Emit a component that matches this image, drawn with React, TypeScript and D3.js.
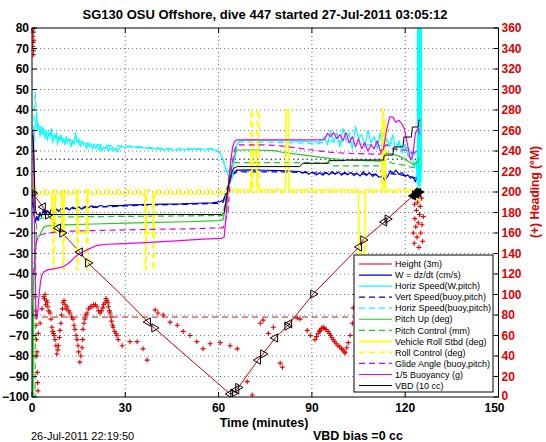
import React from 'react';
import * as d3 from 'd3';

// ---------- data (t in minutes, left axis units; heading in degrees) ----------
const titleText = 'SG130 OSU Offshore, dive 447 started 27-Jul-2011 03:05:12';
const xTicks = [0, 30, 60, 90, 120, 150];
const yTicksL = [-100, -90, -80, -70, -60, -50, -40, -30, -20, -10, 0, 10, 20, 30, 40, 50, 60, 70, 80];
const yTicksR = [0, 20, 40, 60, 80, 100, 120, 140, 160, 180, 200, 220, 240, 260, 280, 300, 320, 340, 360];

const heightData: [number, number][] = [[0,0],[3.5,-7.3],[5.1,-11.2],[8.4,-17.6],[9.7,-20],[15.4,-29.3],[18,-34.6],[28.3,-49.5],[37.3,-63.4],[39.3,-66.3],[50,-80.5],[63.7,-98.5],[64.7,-98.2],[66,-96],[72.7,-82],[74.3,-79],[78.2,-71.2],[82.1,-65.4],[90.4,-49.8],[98,-38],[105.2,-26.8],[106.5,-23.4],[113.3,-14.6],[119.4,-6],[122.5,-2],[124.5,0]];
const markerTimes = [0.3, 3.5, 5.1, 8.4, 9.7, 15.4, 18.0, 37.3, 39.3, 63.7, 64.7, 65.7, 66.3, 72.7, 74.3, 78.2, 82.1, 82.7, 90.4, 105.2, 106.5, 113.3, 114.3, 122.6, 123.1, 123.5, 123.9, 124.2, 124.5];

const headingData: [number, number][] = [
  [0.2,342],[0.3,352],[0.35,346],[0.45,356],[0.5,338],[0.6,348],[0.7,360],[0.4,334],
  [1.0,98],[1.1,84],[1.3,70],[1.4,56],[1.6,40],[1.7,24],[1.8,14],[1.9,6],
  [1.6,44],[2.0,62],[2.6,72],[3.2,86],[3.8,98],[4.2,100],[4.6,94],[5.1,88],[5.8,82],[6.4,68],[6.9,62],[7.4,56],[8.0,42],[8.5,50],[9.0,65],[9.5,80],[10,92],[10.6,90],[11.3,88],[12.2,82],[13.2,76],[13.8,66],[14.5,56],[15.0,44],[15.4,34],[16.1,48],[16.4,66],[17.0,76],[17.7,82],[18.7,88],[19.8,90],[20.9,88],[21.9,82],[22.8,87],[23.5,92],[24.1,94],[24.6,88],[25.1,82],[25.6,74],[26.1,68],[27.3,60],[27.7,56],
  [4.0,96],[4.4,90],[4.9,92],[5.4,84],[6.1,76],[6.7,64],[7.1,60],[7.7,50],[8.3,46],[8.8,58],[9.3,72],[9.8,86],[10.3,94],[11.0,86],[11.8,84],[12.7,78],[13.5,70],[14.2,60],[14.8,50],[15.7,40],[16.3,56],[16.7,72],[17.3,80],[18.2,86],[19.3,88],[20.4,90],[21.4,84],[22.3,84],[23.0,90],[23.8,96],[24.4,92],[24.9,84],[25.4,78],[25.9,70],[26.6,64],[27.0,62],
  [29,50],[31.5,54],[33.8,54],[35.7,47],[37,36],[39.6,85],[40.5,82],[42.2,80],[44.4,73],[46.7,70],[48.6,64],[50.8,60],[53,54],[55,47],[57.3,52],[60.5,53],[63.7,50],[66,47],[69.2,15],[70.8,2],
  [73.4,72],[74.3,75],[76,62],[77.6,68],[79.8,33],[80.5,29],[85.3,77],[86.2,76],[88.5,65],[89.5,60],[91,56],[91.5,59],[92,62],[92.4,64],[92.7,65],[93.1,67],[93.6,68],[94.0,67],[94.5,66],[95.2,64],[95.6,62],[96,60],[96.4,58],[96.8,56],[97.3,54],[97.8,52],[98.4,50],[99,49],[99.5,47],[100,46],[100.4,44],[100.7,43],[101.2,48],[101.7,53],[102.3,60],[103,72],[103.3,87],[103.9,100],
  [122.6,160],[122.9,150],[123.1,174],[123.4,166],[123.6,182],[123.8,156],[124.0,190],[124.2,170],[124.4,146],[124.6,178],[124.8,186],[125.0,160],[125.2,194],[125.4,168],[125.6,152],[125.8,176],[123.0,188],[124.9,200]
];

const wData: [number, number][] = [[0,0],[0.3,-3],[0.6,-8],[1,-15],[1.5,-12],[2,-14],[2.5,-10],[3,-12],[3.6,-8.8],[4.2,-11],[5,-9],[5.6,-10.5],[6.2,-8.5],[7,-10],[7.8,-8.2],[8.6,-9.6],[9.4,-7.8],[10.1,-9],[11,-7.6],[12,-8.8],[13,-7.4],[14,-8.2],[15,-7.2],[16,-8.4],[17,-7],[18,-7.8],[19,-6.8],[20.8,-7.4],[22,-6.6],[23.5,-7.2],[25,-6.6],[28,-6.6],[31.5,-6.3],[36,-6.2],[42.3,-5.9],[48,-5.8],[53,-5.5],[58,-5.3],[60.5,-4.7],[61.5,-4],[62.5,0],[63.5,5],[64.5,9],[65.9,10.7],[70,10.8],[75,10.6],[80,10.4],[86,10],[87,9.2],[88,10],[89,8.6],[90,9.6],[91.5,8.3],[92.5,9.4],[93.5,8.2],[94.5,9.6],[95.5,8.4],[96.5,10],[97.5,8.6],[98.5,9.8],[99.5,8.2],[100.5,9.6],[101.5,8.4],[102.5,9.6],[103.5,8],[104.5,9.2],[105.5,7.8],[106.5,9.9],[107.5,8],[108.5,9.4],[109.5,7.6],[110.5,8.8],[111.5,7.2],[112.5,7.5],[113.5,5.8],[114.5,8],[115.2,10.4],[116,9],[117,10.7],[118,8.6],[119,9.4],[120,7.6],[120.8,8.4],[121.7,6.8],[122.5,7.2],[123.3,5],[124,8],[124.6,4]];
const vertBuoyData: [number, number][] = [[0,0],[0.5,-10],[1,-14],[2,-12],[4,-9.5],[10,-8.3],[20,-7.5],[30,-6.8],[40,-6.3],[50,-6],[60,-5.5],[61.5,-5],[63,2],[64.5,8.5],[66,9.8],[80,9.8],[90,9.4],[100,9],[110,8.6],[113,7.5],[115,9],[120,8],[123,7],[124.6,6]];

const horizWData: [number, number][] = [[0.5,20],[0.8,30],[1.2,34],[1.5,37.5],[1.8,30],[2.2,33],[2.6,27],[3,32],[3.4,28],[3.8,31],[4.2,26],[4.6,30],[5,25],[5.4,29],[5.8,27],[6.2,31],[6.6,24],[7,28],[7.4,26],[7.8,29],[8.2,23],[8.6,27],[9,25],[9.4,28],[9.8,24],[10.2,26],[10.6,23],[11,27],[11.4,24],[12,26],[12.5,22],[13,25],[13.5,23],[14,29],[14.5,24],[15,26],[15.5,22],[16,25],[16.5,23],[17,24],[17.5,21],[18,24],[18.5,22],[19,23],[19.5,21],[20,23.5],[20.5,21],[21,23],[21.5,20.5],[22,22.5],[22.5,20],[23,22],[23.5,21],[24,22.5],[24.5,20],[25,22],[25.5,20.5],[26,22],[26.5,20],[27,21.5],[27.5,19.5],[28.3,22],[32,22],[36,21.5],[40,21],[44,20.5],[48,20.5],[52,21],[56,20.5],[58,21],[59.5,20],[60.5,19],[61.5,15],[62.5,10],[63.5,7],[64.3,6],[65,15],[66,24],[67,25],[70,25.4],[75,25.2],[80,25],[85,24.8],[90,24.5],[92,24.2],[93,25],[94,27],[95,23],[96,30],[97,24],[98,29],[99,22],[100,31],[101,25],[102,29],[103,21],[104,32],[105,26],[106,28],[107,22],[108,30],[109,24],[110,27],[111,21],[112,29],[113,20],[114,26],[115,22],[116,28],[117,20],[118,25],[119,19],[120,23],[121,17],[122,20],[122.8,12],[123.5,15],[123.9,4],[124.0,90],[124.2,3],[124.35,90],[124.5,2],[124.65,90],[124.8,3],[124.95,90],[125.1,5],[125.2,90],[125.25,10]];
const horizBuoyData: [number, number][] = [[0.3,15],[0.7,40],[1,49],[1.3,42],[1.7,32],[2.5,33],[4,30],[6,28],[8,27],[10,26],[14,25],[18,23.5],[22,23],[26,22.5],[30,22.5],[35,22],[40,21.5],[45,21],[50,21],[55,21],[58,21],[60,20],[61.5,16],[62.5,11],[63.5,9],[64.5,14],[65.5,22],[66.5,24.5],[75,24.3],[85,24],[92,23.5],[95,25],[100,24.5],[105,23.5],[110,23],[113,22.5],[116,24],[120,22],[122,20],[123.5,18]];

const pitchData: [number, number][] = [[0,-55],[0.15,-100],[0.35,-100],[0.5,-45],[0.9,-30],[1.5,-23],[2.5,-21],[3.3,-18.5],[3.9,-17],[5,-16.5],[10,-16],[20,-15.6],[30,-15.2],[40,-14.8],[50,-14.5],[60,-14],[61.5,-13.5],[62.5,-5],[63.5,5],[64.5,15],[65.5,19.5],[66,20.5],[72,20.5],[78,20.2],[80,19.5],[85,18.5],[90,17.5],[95,16.5],[100,15.6],[105,15.4],[110,15.2],[112,15],[113,17],[114,19],[116,18.5],[118,17.5],[120,16],[122,14],[123,13.5],[124,15],[124.6,17]];
const pitchCtlData: [number, number][] = [[0.3,-100],[1.0,-100],[1.2,-30],[1.5,-15],[2.5,-13],[5,-12.2],[20,-12],[40,-11.8],[60,-11.5],[61.5,-11.5],[62,-5],[63,5],[64,13],[65,14.3],[80,14.3],[90,14.3],[96,14],[97,12.7],[112,12.7],[113,15.5],[116,14],[120,13],[122,12],[124.6,12]];

const rollData: [number, number][] = [[0,0],[0.5,5],[1,-2],[2,-1],[6.4,-1],[6.5,-20],[7.5,-20],[7.6,-1],[9.5,-1],[9.6,-20],[10.2,-20],[10.3,-1],[14.5,-1],[14.6,-20],[17.7,-20],[17.8,-1],[36.4,-1],[36.5,-20],[39,-20],[39.1,-1],[61,-1],[64,1],[70.5,1],[71,20],[72,20],[72.5,1],[81.5,1],[81.7,40],[82.4,40],[82.6,1],[105,1],[105.2,-30],[107,-30],[107.2,1],[112.6,1],[112.8,35],[113.5,35],[113.7,1],[122,1],[124,0],[124.6,-5]];
const rollCtlData: [number, number][] = [[0,2],[2,1],[6.7,1],[6.8,-38],[7.1,-38],[7.2,1],[9.9,1],[10.0,-38],[10.3,-38],[10.4,1],[14.4,1],[14.5,-38],[14.8,-38],[14.9,1],[17.5,1],[17.6,-38],[17.9,-38],[18.0,1],[36.3,1],[36.4,-38],[36.7,-38],[36.8,1],[38.8,1],[38.9,-38],[39.2,-38],[39.3,1],[61,1],[64,0],[70.2,0],[70.4,40],[70.8,40],[71,0],[72.3,0],[72.5,40],[72.9,40],[73.1,0],[112.4,0],[112.6,41],[113,41],[113.2,0],[124.6,0]];

const glideData: [number, number][] = [[0.5,-40],[1,-30],[1.5,-24],[2.5,-21],[5,-20],[10,-19.2],[20,-18.8],[30,-18.5],[40,-18.2],[50,-18],[60,-17.5],[61.5,-17.5],[63,-10],[64,10],[65,20],[66,23],[75,23],[80,22.5],[85,21.5],[90,20.5],[95,19.5],[100,19],[105,18.7],[110,18.5],[112,18.5],[113,22],[114,23],[116,21],[120,20.5],[122,19],[124.6,20]];
const buoyData: [number, number][] = [[0,30],[0.3,29],[0.6,10],[0.9,-30],[1.2,-55],[1.5,-62],[1.8,-60],[2.3,-50],[2.8,-43],[3.3,-40],[3.8,-39],[5,-38],[7,-37.5],[10,-36.5],[12,-34.5],[14,-31.5],[15.4,-30],[18,-28],[21,-26],[24,-25.5],[27.7,-25.3],[35,-24.8],[45,-24],[55,-23],[61,-22.6],[61.8,-22],[62.5,-10],[63.5,10],[64.5,22],[65.3,25],[66,25.4],[93,25.4],[94,25.5],[95,28.6],[96,27],[97,29],[98,26],[99,28],[100,25],[101,29],[102,24],[103,27],[104,22],[105,26],[106,21],[107,24],[108,20],[109,23],[110,21],[111,25],[112,20],[113,21],[114,30],[115,36.7],[116,36.5],[117,34],[118,35],[119,33],[119.7,31],[120.5,25],[121.7,15.6],[122.5,18],[123.3,29],[124.2,31],[124.6,28]];
const vbdData: [number, number][] = [[0,28],[0.3,27],[0.6,20],[0.9,0],[1.1,-8],[1.3,-10.5],[2,-11],[5,-11],[30,-11],[61,-11],[61.8,-10],[62.8,0],[63.8,8],[64.8,11.5],[66,12.4],[86,12.4],[86.5,13],[87,14],[95,14],[95.5,15.3],[100,15.3],[101,15.6],[113,15.6],[113.3,18],[116,18],[116.4,22],[119.3,22],[119.6,26.8],[122,26.8],[122.3,31.7],[124.2,31.7],[124.4,35],[124.9,35]];

const targetDepthData: [number, number][] = [[0,-61],[125,-61]];
const refBlueData: [number, number][] = [[0,16],[125,16]];

const legendLabels = ['Height (3m)', 'W = dz/dt (cm/s)', 'Horiz Speed(W,pitch)', 'Vert Speed(buoy,pitch)', 'Horiz Speed(buoy,pitch)', 'Pitch Up (deg)', 'Pitch Control (mm)', 'Vehicle Roll Stbd (deg)', 'Roll Control (deg)', 'Glide Angle (buoy,pitch)', '1/5 Buoyancy (g)', 'VBD (10 cc)'];

// ---------- styles ----------
const DASH = '6 4';
const legendStyles = [
  { color: '#cc0000', dash: undefined, w: 1 },
  { color: '#0000c8', dash: undefined, w: 1.2 },
  { color: '#00ffff', dash: undefined, w: 1.2 },
  { color: '#0000c8', dash: DASH, w: 1.2 },
  { color: '#00ffff', dash: DASH, w: 1.2 },
  { color: '#22cc22', dash: undefined, w: 1.2 },
  { color: '#22cc22', dash: DASH, w: 1.2 },
  { color: '#ffff00', dash: undefined, w: 1.6 },
  { color: '#ffff00', dash: DASH, w: 1.6 },
  { color: '#dd00dd', dash: DASH, w: 1.2 },
  { color: '#ee00ee', dash: undefined, w: 1.2 },
  { color: '#000000', dash: undefined, w: 1 },
];

const PL = 32, PR = 498.5, PT = 28, PB = 397;
const FONT = '"Liberation Sans", Arial, Helvetica, sans-serif';

export default function App() {
  const x = d3.scaleLinear().domain([0, 150]).range([PL, PR]);
  const y = d3.scaleLinear().domain([-100, 80]).range([PB, PT]);
  const yR = d3.scaleLinear().domain([0, 360]).range([PB, PT]);
  const line = d3.line<[number, number]>().x(d => x(d[0])).y(d => y(d[1]));

  const hInterp = (t: number) => {
    const ts = heightData.map(d => d[0]);
    const i = Math.max(1, Math.min(heightData.length - 1, d3.bisectLeft(ts, t)));
    const a = heightData[i - 1], b = heightData[i];
    const f = (t - a[0]) / (b[0] - a[0]);
    return a[1] + f * (b[1] - a[1]);
  };
  const tri = d3.symbol().type(d3.symbolTriangle).size(30)();

  const series = [
    { d: wData, s: legendStyles[1] },
    { d: vertBuoyData, s: legendStyles[3] },
    { d: horizWData, s: legendStyles[2] },
    { d: horizBuoyData, s: legendStyles[4] },
    { d: pitchData, s: legendStyles[5] },
    { d: pitchCtlData, s: legendStyles[6] },
    { d: rollData, s: legendStyles[7] },
    { d: rollCtlData, s: legendStyles[8] },
    { d: glideData, s: legendStyles[9] },
    { d: buoyData, s: legendStyles[10] },
    { d: vbdData, s: legendStyles[11] },
  ];

  const legX = 354, legY = 255, legW = 139, legH = 137, rowH = 11.05;

  return (
    <svg width={546} height={442} style={{ position: 'absolute', left: 0, top: 0, background: '#fff' }} fontFamily={FONT}>
      <defs>
        <clipPath id="plotClip"><rect x={PL} y={PT} width={PR - PL} height={PB - PT} /></clipPath>
      </defs>
      <rect x={0} y={0} width={546} height={442} fill="#fff" />
      <text x={265} y={19} textAnchor="middle" fontSize={13} fontWeight="bold">{titleText}</text>
      {/* grid */}
      <g stroke="#555" strokeWidth={0.8} strokeDasharray="1 3">
        {xTicks.slice(1, -1).map(t => <line key={'gx' + t} x1={x(t)} x2={x(t)} y1={PT} y2={PB} />)}
        {yTicksL.slice(1, -1).map(v => <line key={'gy' + v} x1={PL} x2={PR} y1={y(v)} y2={y(v)} />)}
      </g>
      <g clipPath="url(#plotClip)" fill="none">
        <path d={line(refBlueData)!} stroke="#00008b" strokeWidth={1} strokeDasharray="1.5 3" />
        <path d={line(targetDepthData)!} stroke="#b22222" strokeWidth={1} strokeDasharray={DASH} />
        {headingData.map((d, i) => (
          <path key={'h' + i} transform={`translate(${x(d[0])},${yR(d[1])})`} d="M-2.5,0H2.5M0,-2.5V2.5" stroke="#e00000" strokeWidth={1.1} />
        ))}
        <path d={line(heightData)!} stroke={legendStyles[0].color} strokeWidth={1} />
        {series.map((s, i) => (
          <path key={'s' + i} d={line(s.d)!} stroke={s.s.color} strokeWidth={s.s.w} strokeDasharray={s.s.dash} strokeLinejoin="round" />
        ))}
        {markerTimes.map((t, i) => (
          <path key={'m' + i} d={tri!} transform={`translate(${x(t)},${y(hInterp(t))}) rotate(${i % 2 === 0 ? 90 : -90})`}
            fill={t > 122 ? '#000' : 'none'} stroke="#000" strokeWidth={1} />
        ))}
      </g>
      {/* axes box */}
      <rect x={PL} y={PT} width={PR - PL} height={PB - PT} fill="none" stroke="#000" strokeWidth={1} />
      {/* left ticks */}
      {yTicksL.map(v => (
        <g key={'yl' + v}>
          <line x1={PL} x2={PL + 5} y1={y(v)} y2={y(v)} stroke="#000" />
          <text x={PL - 3} y={y(v) + 4.3} textAnchor="end" fontSize={12} fontWeight="bold">{v < 0 ? '\u2212' + Math.abs(v) : String(v)}</text>
        </g>
      ))}
      {/* right ticks */}
      {yTicksR.map(v => (
        <g key={'yr' + v}>
          <line x1={PR - 5} x2={PR} y1={yR(v)} y2={yR(v)} stroke="#000" />
          <text x={PR + 3} y={yR(v) + (v === 0 ? 2.5 : 4.3)} textAnchor="start" fontSize={12} fontWeight="bold" fill="#e00000">{v}</text>
        </g>
      ))}
      {/* x ticks */}
      {xTicks.map(t => (
        <g key={'xt' + t}>
          <line x1={x(t)} x2={x(t)} y1={PB} y2={PB - 5} stroke="#000" />
          <line x1={x(t)} x2={x(t)} y1={PT} y2={PT + 5} stroke="#000" />
          <text x={x(t) - (t === 150 ? 4 : 0)} y={PB + 14.5} textAnchor="middle" fontSize={12} fontWeight="bold">{t}</text>
        </g>
      ))}
      <text x={264} y={427} textAnchor="middle" fontSize={12.5} fontWeight="bold">Time (minutes)</text>
      <text x={31} y={440} fontSize={11}>26-Jul-2011 22:19:50</text>
      <text x={358} y={440} textAnchor="middle" fontSize={12.5} fontWeight="bold">VBD bias =0 cc</text>
      <text transform="translate(535,192) rotate(-90)" textAnchor="middle" dy="0.35em" fontSize={12} fontWeight="bold" fill="#e00000">(+) Heading (°M)</text>
      {/* legend */}
      <g>
        <rect x={legX} y={legY} width={legW} height={legH} fill="#fff" stroke="#000" strokeWidth={1} />
        {legendLabels.map((lab, i) => {
          const yy = legY + 9 + i * rowH;
          const s = legendStyles[i];
          return (
            <g key={'lg' + i}>
              <line x1={legX + 5} x2={legX + 38} y1={yy} y2={yy} stroke={s.color} strokeWidth={s.w} strokeDasharray={s.dash} />
              <text x={legX + 41} y={yy + 3.2} fontSize={9}>{lab}</text>
            </g>
          );
        })}
      </g>
    </svg>
  );
}
